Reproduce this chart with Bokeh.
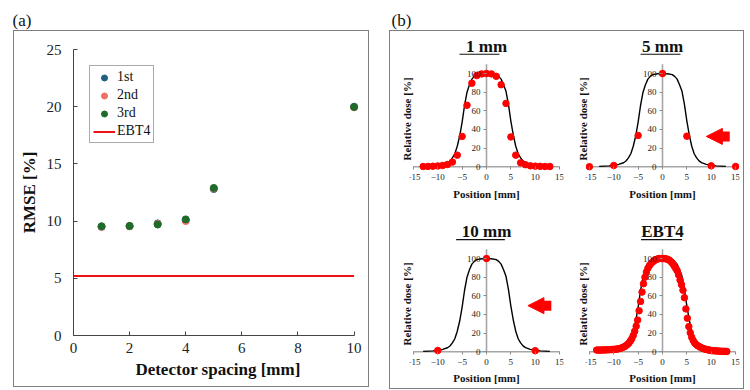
from bokeh.plotting import figure
from bokeh.models import (LinearAxis, FixedTicker, Range1d, Title, Arrow, NormalHead,
                          Spacer, Legend, LegendItem)
from bokeh.layouts import row, column
from bokeh.embed import file_html
from bokeh.resources import INLINE

SERIF = "Liberation Serif"
BORDER = {"border": "1px solid #7f7f7f"}

# ---------------- data: panel (a) ----------------
spacing_mm = [1, 2, 3, 4, 5, 10]
rmse_1st = [9.50, 9.55, 9.80, 10.10, 12.80, 20.00]
rmse_2nd = [9.50, 9.55, 9.75, 10.00, 12.85, 19.95]
rmse_3rd = [9.55, 9.58, 9.70, 10.15, 12.90, 19.97]
rmse_ebt4 = 5.2
a_xticks = [0, 2, 4, 6, 8, 10]
a_yticks = [0, 5, 10, 15, 20, 25]
series_names = ["1st", "2nd", "3rd", "EBT4"]

# ---------------- data: panel (b) ----------------
pos_ticks = [-15, -10, -5, 0, 5, 10, 15]
dose_ticks = [0, 20, 40, 60, 80, 100]
dose_axis_top = 110

# reference (calculated) profile, black line
ref_pos = [-13, -12, -11, -10, -9, -8, -7.5, -7, -6.5, -6, -5.5, -5, -4.5, -4, -3.5, -3,
           -2.5, -2, -1, 0, 1, 2, 2.5, 3, 3.5, 4, 4.5, 5, 5.5, 6, 6.5, 7, 7.5, 8, 9, 10,
           11, 12, 13]
ref_dose = [0.4, 0.7, 1.0, 1.5, 2.5, 4.3, 6.2, 9.5, 14, 22, 33, 48, 66, 80, 88, 94,
            97, 98.8, 99.8, 100, 99.8, 98.8, 97, 94, 88, 81, 67, 49, 34, 22, 14, 9.5,
            6.3, 4.4, 2.6, 1.6, 1.0, 0.7, 0.4]

# 1 mm detector spacing
pos_1mm = [-13, -12, -11, -10, -9, -8, -7, -6, -5, -4, -3, -2, -1, 0, 1, 2, 3, 4, 5, 6,
           7, 8, 9, 10, 11, 12, 13]
dose_1mm = [0.3, 0.4, 0.6, 0.9, 1.4, 2.5, 5.0, 12.5, 32.6, 66, 89.6, 97.8, 99.6, 100,
            99.6, 97, 88, 68, 32, 12.5, 4.3, 2.2, 1.0, 0.7, 0.5, 0.3, 0.3]
# 5 mm detector spacing
pos_5mm = [-15, -10, -5, 0, 5, 10, 15]
dose_5mm = [0.1, 1.4, 33.6, 100, 32.8, 1.0, 0.3]
# 10 mm detector spacing
pos_10mm = [-10, 0, 10]
dose_10mm = [1.4, 100, 1.2]
# EBT4 film
pos_ebt4 = [-13.5, -13.2, -12.9, -12.6, -12.3, -12.0, -11.7, -11.4, -11.1, -10.8, -10.5,
            -10.2, -9.9, -9.6, -9.3, -9.0, -8.7, -8.4, -8.1, -7.8, -7.5, -7.2, -6.9, -6.6,
            -6.3, -6.0, -5.7, -5.4, -5.1, -4.8, -4.5, -4.2, -3.9, -3.6, -3.3, -3.0, -2.7,
            -2.4, -2.1, -1.8, -1.5, -1.2, -0.9, -0.6, -0.3, 0.0, 0.3, 0.6, 0.9, 1.2, 1.5,
            1.8, 2.1, 2.4, 2.7, 3.0, 3.3, 3.6, 3.9, 4.2, 4.5, 4.8, 5.1, 5.4, 5.7, 6.0, 6.3,
            6.6, 6.9, 7.2, 7.5, 7.8, 8.1, 8.4, 8.7, 9.0, 9.3, 9.6, 9.9, 10.2, 10.5, 10.8,
            11.1, 11.4, 11.7, 12.0, 12.3, 12.6, 12.9, 13.2]
dose_ebt4 = [1.8, 1.8, 1.8, 1.9, 1.9, 2.0, 2.0, 2.1, 2.2, 2.3, 2.4,
             2.5, 2.6, 2.8, 3.0, 3.2, 3.6, 4.1, 4.8, 5.5, 6.5, 7.8, 9.3, 11.5,
             14, 17.5, 22, 27.5, 34, 44, 54, 64, 73, 80, 85.5, 89.5, 92.3,
             94.5, 96, 97.3, 98.4, 99.2, 99.7, 100, 100, 100, 100, 99.8, 99.4, 98.8, 97.8,
             96.3, 94.5, 92, 89.5, 87, 82.5, 77, 72, 66, 58, 46, 36, 27, 20.5, 15.5, 12,
             9.5, 7.8, 6.6, 5.7, 4.8, 4.0, 3.4, 2.9, 2.5, 2.1, 1.8, 1.5, 1.3, 1.1, 1.0,
             0.9, 0.8, 0.7, 0.6, 0.5, 0.5, 0.4, 0.4]

# red arrows (x from, x to, y) in data units of their sub-plot
arrow_5mm = (13.8, 9.0, 32.6)
arrow_10mm = (13.3, 8.5, 49.5)

# ---------------- helpers ----------------
def label_fig(text, width, left):
    f = figure(width=width, height=30, output_backend="svg", toolbar_location=None,
               x_axis_type=None, y_axis_type=None, min_border_left=left,
               min_border_right=0, min_border_top=29, min_border_bottom=0,
               outline_line_color=None,
               title=Title(text=text, text_font=SERIF, text_font_size="17px",
                           text_font_style="normal", align="left", standoff=-1,
                           text_color="#111111"))
    f.grid.visible = False
    return f


def style_axis(ax, size="9px"):
    ax.major_label_text_font = SERIF
    ax.major_label_text_font_size = size
    ax.major_label_text_color = "#222222"
    ax.minor_tick_line_color = None


def profile_fig(title, t_off, t_half, w, h, bl, bt, dx, dy, xl_standoff, ul_y, arrow=None):
    fw, fh = 154, 131
    p = figure(width=w, height=h, x_range=Range1d(-15.8, 15.8),
               y_range=Range1d(-19, 121.5),
               output_backend="svg", toolbar_location=None, x_axis_type=None,
               y_axis_type=None, min_border_left=bl, min_border_right=w - bl - fw,
               min_border_top=bt, min_border_bottom=h - bt - fh, outline_line_color=None,
               title=Title(text=title, text_font=SERIF, text_font_size="17px",
                           text_font_style="bold", align="center", standoff=-4,
                           offset=t_off, text_color="#111111"))
    # axis lines (beneath the data)
    p.line([pos_ticks[0], pos_ticks[-1]], [dose_ticks[0], dose_ticks[0]],
           line_color="#a6a6a6", line_width=1.6)
    p.line([pos_ticks[3], pos_ticks[3]], [dose_ticks[0], dose_axis_top],
           line_color="#a6a6a6", line_width=1.6)
    xa = LinearAxis(fixed_location=0, bounds=(pos_ticks[0], pos_ticks[-1]),
                    ticker=FixedTicker(ticks=pos_ticks), axis_line_color=None,
                    major_tick_line_color="#8c8c8c",
                    major_tick_in=0, major_tick_out=3, major_label_standoff=4)
    style_axis(xa)
    p.add_layout(xa, "below")
    ya = LinearAxis(fixed_location=0, bounds=(0, dose_axis_top),
                    ticker=FixedTicker(ticks=dose_ticks), axis_line_color=None,
                    major_tick_line_color="#8c8c8c", major_tick_in=0, major_tick_out=3,
                    major_label_standoff=3)
    style_axis(ya)
    p.add_layout(ya, "left")
    xl = LinearAxis(axis_label="Position [mm]", ticker=FixedTicker(ticks=[]),
                    axis_line_color=None, major_tick_line_color=None,
                    minor_tick_line_color=None, axis_label_standoff=xl_standoff,
                    axis_label_text_font=SERIF, axis_label_text_font_size="11px",
                    axis_label_text_font_style="bold", axis_label_text_color="#111111")
    p.add_layout(xl, "below")
    yl = LinearAxis(axis_label="Relative dose [%]", ticker=FixedTicker(ticks=[]),
                    axis_line_color=None, major_tick_line_color=None,
                    minor_tick_line_color=None, axis_label_standoff=-3,
                    axis_label_text_font=SERIF, axis_label_text_font_size="11px",
                    axis_label_text_font_style="bold", axis_label_text_color="#111111")
    p.add_layout(yl, "left")
    p.line(ref_pos, ref_dose, line_color="black", line_width=1.4)
    p.scatter(dx, dy, size=6.5, fill_color="#ff0000", line_color="#ff0000")
    if arrow is not None:
        x0, x1, yv = arrow
        p.add_layout(Arrow(start=None,
                           end=NormalHead(size=16, fill_color="#ff0000", line_color="#ff0000"),
                           x_start=x0, y_start=yv, x_end=x1, y_end=yv,
                           line_color="#ff0000", line_width=10))
    # underline of the sub-plot title
    cx = t_off / 4.87
    p.add_layout(Arrow(start=None, end=None, x_start=cx - t_half, x_end=cx + t_half,
                       y_start=ul_y, y_end=ul_y, line_color="#111111", line_width=1.3))
    return p


# ---------------- panel (a) ----------------
pa = figure(width=356, height=357, x_range=Range1d(0, 10.3), y_range=Range1d(0, 25),
            output_backend="svg", toolbar_location=None, min_border_left=59,
            min_border_right=8, min_border_top=18, min_border_bottom=53,
            outline_line_color=None, styles=BORDER)
pa.grid.visible = False
for ax in (pa.xaxis[0], pa.yaxis[0]):
    ax.axis_line_color = "#444444"
    ax.major_tick_line_color = "#444444"
    ax.major_tick_in = 4
    ax.major_tick_out = 0
    ax.minor_tick_line_color = None
    ax.major_label_text_font = SERIF
    ax.major_label_text_font_size = "15px"
    ax.major_label_text_color = "#222222"
    ax.axis_label_text_font = SERIF
    ax.axis_label_text_font_size = "17px"
    ax.axis_label_text_font_style = "bold"
    ax.axis_label_text_color = "#111111"
pa.xaxis.ticker = FixedTicker(ticks=a_xticks)
pa.yaxis.ticker = FixedTicker(ticks=a_yticks)
pa.xaxis.bounds = (a_xticks[0], a_xticks[-1])
pa.xaxis.axis_label = "Detector spacing [mm]"
pa.yaxis.axis_label = "RMSE [%]"
pa.xaxis.major_label_standoff = 7
pa.xaxis.axis_label_standoff = 4
pa.yaxis.major_label_standoff = 12
pa.yaxis.axis_label_standoff = 5

r_ebt4 = pa.line([a_xticks[0], a_xticks[-1]], [rmse_ebt4, rmse_ebt4], line_color="#ee1111",
                 line_width=2)
r1 = pa.scatter(spacing_mm, rmse_1st, size=7, fill_color="#1f5f7f", line_color="#1f5f7f")
r2 = pa.scatter(spacing_mm, rmse_2nd, size=7, fill_color="#f07067", line_color="#f07067")
r3 = pa.scatter(spacing_mm, rmse_3rd, size=7, fill_color="#1e6b2a", line_color="#1e6b2a")
legend = Legend(items=[LegendItem(label=series_names[0], renderers=[r1]),
                       LegendItem(label=series_names[1], renderers=[r2]),
                       LegendItem(label=series_names[2], renderers=[r3]),
                       LegendItem(label=series_names[3], renderers=[r_ebt4])],
                location="top_left", margin=16, padding=3, spacing=2,
                label_height=15, glyph_height=15, glyph_width=22, label_standoff=2,
                label_text_font=SERIF, label_text_font_size="14px",
                label_text_color="#111111", border_line_color="#555555",
                border_line_width=1, background_fill_alpha=1)
pa.add_layout(legend)

# ---------------- panel (b) ----------------
# title text, horizontal offset in px, underline half-width in data units
f1 = profile_fig("1 mm", -7, 4.1, 177, 178, 19, 22, pos_1mm, dose_1mm, 3, 120.8)
f2 = profile_fig("5 mm", -2, 4.1, 176, 178, 18, 22, pos_5mm, dose_5mm, 3, 120.8, arrow_5mm)
f3 = profile_fig("10 mm", -6, 5.0, 177, 179, 19, 29, pos_10mm, dose_10mm, 2, 120.3,
                 arrow_10mm)
f4 = profile_fig("EBT4", -1, 4.2, 176, 179, 18, 29, pos_ebt4, dose_ebt4, 2, 120.3)
pb = column(row(f1, f2), row(f3, f4), styles=BORDER)

la = label_fig("(a)", 380, 12)
lb = label_fig("(b)", 370, 11)

root = column(row(la, lb),
              row(Spacer(width=13, height=359), pa, Spacer(width=20, height=359), pb))

with open("out.html", "w") as fh:
    fh.write(file_html(root, INLINE))
